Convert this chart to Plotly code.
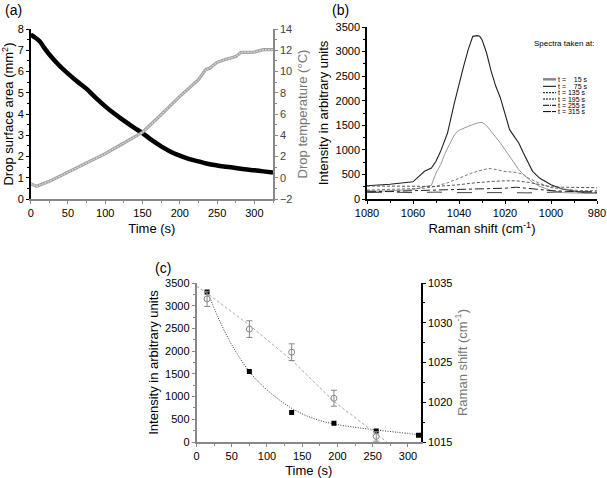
import plotly.graph_objects as go

# ---------------- Panel (a) data ----------------
t_area = [0, 5, 12, 18, 25, 37, 50, 62, 75, 87, 100, 112, 125, 137, 150, 162, 175, 187, 200, 212, 225, 237, 250, 262, 275, 287, 300, 312, 325]
area = [7.73, 7.62, 7.42, 7.12, 6.80, 6.33, 5.90, 5.54, 5.18, 4.77, 4.36, 4.02, 3.69, 3.39, 3.10, 2.78, 2.48, 2.24, 2.04, 1.89, 1.77, 1.66, 1.58, 1.52, 1.46, 1.40, 1.35, 1.30, 1.25]

t_temp = [0, 8, 25, 50, 75, 100, 125, 150, 175, 200, 225, 235, 240, 250, 260, 275, 282, 300, 312, 325]
temp = [-0.56, -0.81, -0.34, 0.51, 1.39, 2.27, 3.27, 4.28, 5.94, 7.66, 9.23, 10.2, 10.3, 10.86, 11.1, 11.4, 11.8, 11.83, 12.05, 12.05]

# ---------------- Panel (b) data ----------------
shift_15 = [1080, 1070, 1060, 1055, 1052, 1050, 1048, 1045, 1042, 1040, 1038, 1036, 1034, 1032, 1031, 1030, 1028, 1026, 1024, 1022, 1020, 1018, 1016, 1014, 1012, 1010, 1008, 1005, 1000, 995, 990, 985, 980]
int_15 = [270, 300, 350, 563, 630, 767, 970, 1343, 1954, 2360, 2700, 3040, 3310, 3324, 3310, 3243, 2971, 2598, 2293, 2056, 1750, 1411, 1275, 1140, 936, 733, 563, 427, 292, 203, 156, 122, 122]

shift_75 = [1080, 1070, 1060, 1055, 1052, 1050, 1048, 1046, 1044, 1042, 1040, 1038, 1036, 1034, 1032, 1030, 1028, 1026, 1024, 1022, 1020, 1018, 1016, 1014, 1012, 1010, 1008, 1005, 1000, 995, 990, 985, 980]
int_75 = [150, 170, 190, 250, 280, 529, 699, 936, 1140, 1309, 1398, 1445, 1479, 1513, 1547, 1560, 1493, 1377, 1262, 1140, 1004, 868, 733, 597, 495, 407, 339, 258, 176, 130, 120, 120, 110]

shift_135 = [1080, 1070, 1060, 1055, 1050, 1045, 1040, 1035, 1030, 1027, 1025, 1020, 1015, 1012, 1010, 1005, 1000, 995, 990, 985, 980]
int_135 = [180, 190, 200, 220, 260, 330, 420, 520, 590, 620, 610, 560, 540, 500, 430, 320, 230, 200, 180, 170, 170]

shift_195 = [1080, 1070, 1060, 1050, 1045, 1040, 1035, 1030, 1025, 1020, 1015, 1010, 1005, 1000, 995, 990, 980]
int_195 = [265, 270, 260, 255, 265, 290, 320, 345, 360, 370, 370, 340, 290, 250, 240, 235, 230]

shift_255 = [1080, 1070, 1060, 1050, 1040, 1030, 1025, 1020, 1015, 1010, 1005, 1000, 990, 980]
int_255 = [160, 150, 170, 180, 190, 200, 210, 220, 240, 220, 190, 170, 150, 140]

shift_315 = [1080, 1070, 1060, 1050, 1040, 1030, 1020, 1010, 1000, 990, 980]
int_315 = [130, 140, 130, 140, 130, 135, 130, 125, 140, 150, 150]

# ---------------- Panel (c) data ----------------
t_spec = [15, 75, 135, 195, 255, 315]
peak_int = [3300, 1550, 650, 410, 240, 150]
t_shift = [15, 75, 135, 195, 255]
peak_shift = [1033.0, 1029.2, 1026.3, 1020.5, 1015.7]
shift_err = [0.95, 1.05, 1.05, 1.0, 0.6]

t_fit_int = [15, 30, 50, 75, 100, 135, 165, 195, 225, 255, 285, 315]
fit_int = [3338, 2765, 2140, 1551, 1147, 743, 522, 397, 324, 265, 213, 162]
t_fit_shift = [0, 15, 75, 135, 195, 255, 270]
fit_shift = [1034.6, 1033.7, 1029.7, 1025.3, 1020.1, 1016.1, 1015.0]

legend_labels = ["t =\u00a0\u00a0\u00a0\u00a015 s", "t =\u00a0\u00a0\u00a0\u00a075 s", "t = 135 s", "t = 195 s", "t = 255 s", "t = 315 s"]

FONT = "Liberation Sans, Arial, sans-serif"
W, H = 607, 478

fig = go.Figure()

# Panel (a)
fig.add_trace(go.Scatter(x=t_temp, y=temp, xaxis="x", yaxis="y2", mode="lines",
                         line=dict(color="#a0a0a0", width=3.2), showlegend=False))
fig.add_trace(go.Scatter(x=t_temp, y=temp, xaxis="x", yaxis="y2", mode="lines",
                         line=dict(color="#d4d4d4", width=1.4, dash="2px,1px"), showlegend=False))
fig.add_trace(go.Scatter(x=t_area, y=area, xaxis="x", yaxis="y", mode="lines",
                         line=dict(color="black", width=4.5, shape="spline"), showlegend=False))

# Panel (b)
spec_styles = [
    (shift_15, int_15, dict(color="#222222", width=1.1, dash="solid")),
    (shift_75, int_75, dict(color="#999999", width=1.0, dash="solid")),
    (shift_135, int_135, dict(color="#777777", width=1.0, dash="3px,2px")),
    (shift_195, int_195, dict(color="#555555", width=1.0, dash="3px,2px")),
    (shift_255, int_255, dict(color="#222222", width=1.0, dash="dashdot")),
    (shift_315, int_315, dict(color="#444444", width=1.0, dash="longdash")),
]
for xs, ys, ln in spec_styles:
    fig.add_trace(go.Scatter(x=xs, y=ys, xaxis="x3", yaxis="y3", mode="lines",
                             line=ln, showlegend=False))

# Panel (c)
fig.add_trace(go.Scatter(x=t_fit_shift, y=fit_shift, xaxis="x4", yaxis="y5", mode="lines",
                         line=dict(color="#aaaaaa", width=1, dash="3px,2px"), showlegend=False))
fig.add_trace(go.Scatter(x=t_fit_int, y=fit_int, xaxis="x4", yaxis="y4", mode="lines",
                         line=dict(color="#333333", width=1, dash="1px,1.5px", shape="spline"), showlegend=False))
fig.add_trace(go.Scatter(x=t_shift, y=peak_shift, xaxis="x4", yaxis="y5", mode="markers",
                         marker=dict(symbol="circle-open", size=6, color="#888888", line=dict(width=1)),
                         error_y=dict(type="data", array=shift_err, color="#888888", thickness=1, width=3),
                         showlegend=False))
fig.add_trace(go.Scatter(x=t_spec, y=peak_int, xaxis="x4", yaxis="y4", mode="markers",
                         marker=dict(symbol="square", size=5, color="black"), showlegend=False))

def px2x(p):
    return p / W

def px2y(p):
    return 1 - p / H

tickfont = dict(family=FONT, size=11, color="black")
titlefont = dict(family=FONT, size=13, color="black")

def ax(**kw):
    base = dict(showgrid=False, zeroline=False, showline=True, linewidth=1.5, linecolor="black",
                ticks="outside", ticklen=3, tickwidth=1, tickcolor="black", tickfont=tickfont,
                title_font=titlefont, automargin=False)
    base.update(kw)
    return base

fig.update_layout(
    width=W, height=H, margin=dict(l=0, r=0, t=0, b=0, autoexpand=False),
    template="none",
    paper_bgcolor="white", plot_bgcolor="white", font=dict(family=FONT),
    xaxis=ax(domain=[px2x(30.7), px2x(273)], anchor="y", range=[0, 325], dtick=50,
             linecolor="#888888", tickcolor="#888888",
             minor=dict(ticks="outside", ticklen=2, dtick=25, tickcolor="#888888"),
             title=dict(text="Time (s)", standoff=6)),
    yaxis=ax(domain=[px2y(199), px2y(29)], anchor="x", range=[0, 8], dtick=1,
             minor=dict(ticks="outside", ticklen=2, dtick=0.5),
             title=dict(text="Drop surface area (mm<sup>2</sup>)", standoff=4)),
    yaxis2=ax(overlaying="y", side="right", anchor="x", range=[-2, 14], dtick=2,
              linecolor="#888888", tickcolor="#888888",
              tickfont=dict(family=FONT, size=11, color="#444444"),
              minor=dict(ticks="outside", ticklen=2, dtick=1, tickcolor="#888888"),
              title=dict(text="Drop temperature (°C)", standoff=6,
                         font=dict(family=FONT, size=13, color="#777777"))),
    xaxis3=ax(domain=[px2x(367), px2x(597)], anchor="y3", range=[1080, 980], dtick=20,
              minor=dict(ticks="outside", ticklen=2, dtick=10),
              title=dict(text="Raman shift (cm<sup>-1</sup>)", standoff=6)),
    yaxis3=ax(domain=[px2y(199), px2y(27)], anchor="x3", range=[0, 3500], dtick=500,
              minor=dict(ticks="outside", ticklen=2, dtick=250),
              title=dict(text="Intensity in arbitrary units", standoff=4)),
    xaxis4=ax(domain=[px2x(196.5), px2x(421)], anchor="y4", range=[0, 318.5], dtick=50,
              linecolor="#888888", tickcolor="#888888",
              minor=dict(ticks="outside", ticklen=2, dtick=25, tickcolor="#888888"),
              title=dict(text="Time (s)", standoff=6)),
    yaxis4=ax(domain=[px2y(442), px2y(283)], anchor="x4", range=[0, 3500], dtick=500,
              linecolor="#888888", tickcolor="#888888",
              minor=dict(ticks="outside", ticklen=2, dtick=250, tickcolor="#888888"),
              title=dict(text="Intensity in arbitrary units", standoff=4)),
    yaxis5=ax(overlaying="y4", side="right", anchor="x4", range=[1015, 1035], dtick=5,
              minor=dict(ticks="outside", ticklen=2, dtick=2.5),
              title=dict(text="Raman shift (cm<sup>-1</sup>)", standoff=6,
                         font=dict(family=FONT, size=13, color="#777777"))),
)

annotations = [
    dict(text="(a)", x=px2x(3), y=px2y(10), xanchor="left", yanchor="middle"),
    dict(text="(b)", x=px2x(330), y=px2y(10), xanchor="left", yanchor="middle"),
    dict(text="(c)", x=px2x(153), y=px2y(268), xanchor="left", yanchor="middle"),
]
for a in annotations:
    a.update(xref="paper", yref="paper", showarrow=False, font=dict(family=FONT, size=14, color="black"))

annotations.append(dict(text="Spectra taken at:", x=px2x(532), y=px2y(43), xref="paper", yref="paper",
                        xanchor="left", yanchor="middle", showarrow=False,
                        font=dict(family=FONT, size=8, color="black")))

legend_rows = [79.3, 86.3, 92.7, 99.0, 105.3, 111.6]
legend_lines = [
    dict(color="#888888", width=2.5, dash="solid"),
    dict(color="black", width=1, dash="solid"),
    dict(color="black", width=1, dash="2px,1px"),
    dict(color="black", width=1, dash="2px,1px"),
    dict(color="black", width=1, dash="6px,1px,1px,1px"),
    dict(color="black", width=1, dash="8px,1px"),
]
shapes = []
for yrow, lab, ln in zip(legend_rows, legend_labels, legend_lines):
    shapes.append(dict(type="line", xref="paper", yref="paper",
                       x0=px2x(543), x1=px2x(556), y0=px2y(yrow), y1=px2y(yrow), line=ln))
    annotations.append(dict(text=lab, x=px2x(557), y=px2y(yrow), xref="paper", yref="paper",
                            xanchor="left", yanchor="middle", showarrow=False, borderpad=0,
                            font=dict(family=FONT, size=7, color="black")))

fig.update_layout(annotations=annotations, shapes=shapes)

fig.write_html("out.html", config={"displayModeBar": False},
               post_script="document.body.style.margin='0px';document.body.style.padding='0px';")
